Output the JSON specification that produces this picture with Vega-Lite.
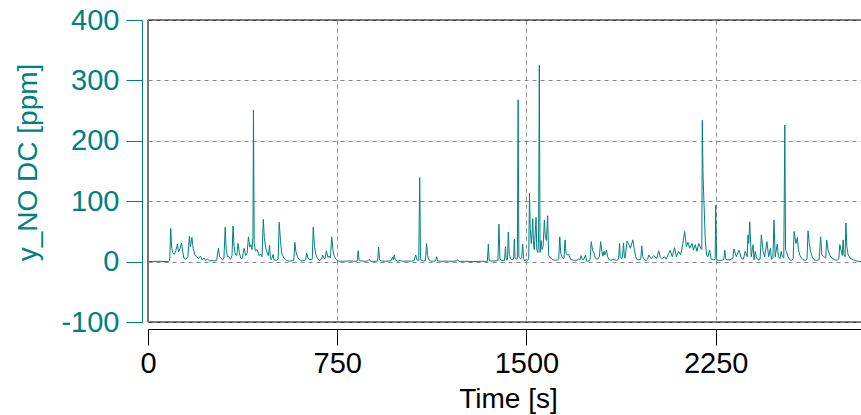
{
  "$schema": "https://vega.github.io/schema/vega-lite/v6.json",
  "width": 713,
  "height": 302,
  "autosize": {"type": "none"},
  "padding": {"left": 148, "top": 20, "right": 0, "bottom": 93},
  "background": "white",
  "config": {"view": {"stroke": null}, "font": "Liberation Sans"},
  "layer": [
    {
      "data": {"values": [
        {"t":0,"v":0},{"t":40,"v":0.5},{"t":80,"v":0},{"t":86,"v":2},{"t":90,"v":55},{"t":94,"v":22},{"t":98,"v":15},{"t":104,"v":12},{"t":110,"v":18},{"t":117,"v":29},{"t":121,"v":16},{"t":127,"v":22},{"t":133,"v":31},{"t":137,"v":18},{"t":142,"v":6},{"t":150,"v":4},{"t":158,"v":8},{"t":164,"v":42},{"t":168,"v":25},{"t":174,"v":40},{"t":179,"v":22},{"t":185,"v":12},{"t":192,"v":8},{"t":200,"v":5},{"t":208,"v":9},{"t":214,"v":3},{"t":222,"v":6},{"t":228,"v":2},{"t":236,"v":4},{"t":245,"v":1},{"t":255,"v":2},{"t":262,"v":1},{"t":272,"v":2},{"t":279,"v":22},{"t":284,"v":8},{"t":290,"v":5},{"t":296,"v":3},{"t":301,"v":6},{"t":306,"v":57},{"t":310,"v":20},{"t":315,"v":8},{"t":321,"v":8},{"t":327,"v":4},{"t":333,"v":10},{"t":337,"v":59},{"t":341,"v":25},{"t":346,"v":12},{"t":352,"v":10},{"t":357,"v":30},{"t":362,"v":15},{"t":367,"v":6},{"t":373,"v":5},{"t":381,"v":22},{"t":387,"v":10},{"t":393,"v":14},{"t":398,"v":41},{"t":403,"v":24},{"t":408,"v":28},{"t":412,"v":20},{"t":416,"v":40},{"t":418,"v":251},{"t":421,"v":30},{"t":426,"v":18},{"t":433,"v":20},{"t":440,"v":10},{"t":447,"v":12},{"t":452,"v":8},{"t":457,"v":70},{"t":461,"v":40},{"t":466,"v":24},{"t":471,"v":16},{"t":477,"v":10},{"t":482,"v":27},{"t":485,"v":5},{"t":489,"v":3},{"t":496,"v":12},{"t":499,"v":3},{"t":508,"v":2},{"t":516,"v":4},{"t":520,"v":65},{"t":525,"v":35},{"t":530,"v":14},{"t":538,"v":6},{"t":546,"v":3},{"t":555,"v":1},{"t":565,"v":1},{"t":578,"v":2},{"t":582,"v":32},{"t":586,"v":17},{"t":592,"v":8},{"t":600,"v":3},{"t":610,"v":1},{"t":625,"v":3},{"t":629,"v":14},{"t":634,"v":6},{"t":642,"v":3},{"t":651,"v":4},{"t":655,"v":57},{"t":660,"v":25},{"t":665,"v":12},{"t":672,"v":5},{"t":680,"v":2},{"t":688,"v":4},{"t":692,"v":11},{"t":697,"v":6},{"t":702,"v":5},{"t":707,"v":18},{"t":713,"v":7},{"t":718,"v":9},{"t":723,"v":6},{"t":728,"v":41},{"t":733,"v":20},{"t":738,"v":9},{"t":745,"v":4},{"t":752,"v":1},{"t":770,"v":0.5},{"t":800,"v":1},{"t":820,"v":0.5},{"t":829,"v":1},{"t":833,"v":18},{"t":837,"v":2},{"t":845,"v":1},{"t":860,"v":0.5},{"t":870,"v":1},{"t":877,"v":4},{"t":882,"v":0.5},{"t":895,"v":0.5},{"t":910,"v":1},{"t":914,"v":24},{"t":918,"v":3},{"t":925,"v":1},{"t":940,"v":0.5},{"t":955,"v":1},{"t":962,"v":1},{"t":969,"v":7},{"t":972,"v":3},{"t":976,"v":11},{"t":980,"v":3},{"t":990,"v":1},{"t":1000,"v":2},{"t":1010,"v":0.5},{"t":1030,"v":1},{"t":1045,"v":0.5},{"t":1055,"v":2},{"t":1061,"v":11},{"t":1066,"v":3},{"t":1073,"v":2},{"t":1077,"v":139},{"t":1080,"v":5},{"t":1084,"v":2},{"t":1092,"v":1},{"t":1100,"v":2},{"t":1104,"v":30},{"t":1108,"v":10},{"t":1113,"v":3},{"t":1120,"v":1},{"t":1130,"v":0.5},{"t":1140,"v":1},{"t":1144,"v":8},{"t":1148,"v":1},{"t":1165,"v":0.5},{"t":1180,"v":1},{"t":1200,"v":0.5},{"t":1222,"v":1},{"t":1227,"v":3},{"t":1232,"v":0.5},{"t":1260,"v":0.5},{"t":1290,"v":0},{"t":1320,"v":0.5},{"t":1340,"v":0.5},{"t":1345,"v":0.5},{"t":1349,"v":29},{"t":1352,"v":2},{"t":1360,"v":1},{"t":1375,"v":1},{"t":1387,"v":2},{"t":1391,"v":62},{"t":1395,"v":5},{"t":1400,"v":2},{"t":1407,"v":2},{"t":1413,"v":2},{"t":1417,"v":25},{"t":1420,"v":3},{"t":1425,"v":3},{"t":1428,"v":49},{"t":1432,"v":12},{"t":1437,"v":5},{"t":1443,"v":3},{"t":1449,"v":4},{"t":1452,"v":37},{"t":1455,"v":6},{"t":1460,"v":4},{"t":1464,"v":5},{"t":1467,"v":268},{"t":1470,"v":8},{"t":1475,"v":5},{"t":1481,"v":6},{"t":1485,"v":29},{"t":1489,"v":5},{"t":1494,"v":1},{"t":1500,"v":4},{"t":1505,"v":2},{"t":1509,"v":5},{"t":1512,"v":113},{"t":1515,"v":55},{"t":1519,"v":30},{"t":1522,"v":45},{"t":1525,"v":71},{"t":1528,"v":28},{"t":1531,"v":20},{"t":1533,"v":35},{"t":1538,"v":73},{"t":1541,"v":20},{"t":1545,"v":15},{"t":1548,"v":30},{"t":1551,"v":325},{"t":1554,"v":15},{"t":1558,"v":35},{"t":1562,"v":20},{"t":1566,"v":25},{"t":1571,"v":69},{"t":1575,"v":40},{"t":1579,"v":35},{"t":1584,"v":76},{"t":1588,"v":10},{"t":1595,"v":6},{"t":1605,"v":3},{"t":1615,"v":2},{"t":1622,"v":3},{"t":1628,"v":4},{"t":1632,"v":41},{"t":1636,"v":14},{"t":1641,"v":8},{"t":1645,"v":5},{"t":1649,"v":6},{"t":1653,"v":36},{"t":1657,"v":14},{"t":1662,"v":11},{"t":1668,"v":12},{"t":1674,"v":4},{"t":1680,"v":3},{"t":1690,"v":2},{"t":1700,"v":2},{"t":1706,"v":4},{"t":1712,"v":3},{"t":1716,"v":10},{"t":1722,"v":3},{"t":1728,"v":4},{"t":1734,"v":11},{"t":1738,"v":1},{"t":1745,"v":1},{"t":1752,"v":3},{"t":1757,"v":33},{"t":1762,"v":19},{"t":1768,"v":14},{"t":1773,"v":6},{"t":1780,"v":4},{"t":1785,"v":5},{"t":1789,"v":8},{"t":1794,"v":33},{"t":1799,"v":17},{"t":1803,"v":9},{"t":1807,"v":17},{"t":1811,"v":11},{"t":1817,"v":19},{"t":1822,"v":8},{"t":1828,"v":3},{"t":1835,"v":2},{"t":1842,"v":4},{"t":1850,"v":3},{"t":1858,"v":2},{"t":1865,"v":4},{"t":1869,"v":30},{"t":1872,"v":8},{"t":1876,"v":5},{"t":1880,"v":7},{"t":1885,"v":31},{"t":1888,"v":6},{"t":1891,"v":6},{"t":1899,"v":34},{"t":1904,"v":30},{"t":1912,"v":22},{"t":1922,"v":36},{"t":1928,"v":19},{"t":1933,"v":8},{"t":1939,"v":3},{"t":1946,"v":3},{"t":1953,"v":4},{"t":1957,"v":26},{"t":1961,"v":8},{"t":1968,"v":3},{"t":1975,"v":2},{"t":1980,"v":4},{"t":1985,"v":11},{"t":1994,"v":5},{"t":2005,"v":10},{"t":2016,"v":5},{"t":2024,"v":18},{"t":2030,"v":8},{"t":2037,"v":5},{"t":2047,"v":8},{"t":2054,"v":4},{"t":2061,"v":11},{"t":2070,"v":19},{"t":2078,"v":8},{"t":2087,"v":23},{"t":2094,"v":8},{"t":2103,"v":17},{"t":2111,"v":11},{"t":2120,"v":30},{"t":2127,"v":50},{"t":2134,"v":25},{"t":2140,"v":32},{"t":2147,"v":22},{"t":2156,"v":30},{"t":2162,"v":19},{"t":2169,"v":28},{"t":2176,"v":17},{"t":2183,"v":30},{"t":2191,"v":22},{"t":2195,"v":20},{"t":2197,"v":234},{"t":2200,"v":140},{"t":2204,"v":94},{"t":2209,"v":33},{"t":2214,"v":11},{"t":2219,"v":8},{"t":2226,"v":19},{"t":2232,"v":4},{"t":2243,"v":3},{"t":2248,"v":4},{"t":2250,"v":93},{"t":2254,"v":3},{"t":2262,"v":2},{"t":2270,"v":2},{"t":2278,"v":3},{"t":2282,"v":3},{"t":2286,"v":19},{"t":2290,"v":4},{"t":2298,"v":3},{"t":2306,"v":3},{"t":2318,"v":5},{"t":2322,"v":21},{"t":2332,"v":8},{"t":2342,"v":19},{"t":2352,"v":5},{"t":2360,"v":4},{"t":2367,"v":17},{"t":2375,"v":8},{"t":2378,"v":44},{"t":2381,"v":30},{"t":2385,"v":66},{"t":2391,"v":8},{"t":2398,"v":28},{"t":2402,"v":3},{"t":2407,"v":17},{"t":2412,"v":6},{"t":2418,"v":3},{"t":2426,"v":4},{"t":2431,"v":44},{"t":2438,"v":17},{"t":2444,"v":8},{"t":2453,"v":33},{"t":2460,"v":8},{"t":2467,"v":22},{"t":2471,"v":4},{"t":2477,"v":6},{"t":2481,"v":69},{"t":2486,"v":8},{"t":2494,"v":29},{"t":2499,"v":8},{"t":2505,"v":5},{"t":2510,"v":17},{"t":2514,"v":8},{"t":2520,"v":6},{"t":2524,"v":226},{"t":2527,"v":20},{"t":2532,"v":14},{"t":2537,"v":8},{"t":2544,"v":3},{"t":2552,"v":2},{"t":2557,"v":5},{"t":2561,"v":50},{"t":2568,"v":30},{"t":2574,"v":40},{"t":2578,"v":20},{"t":2583,"v":11},{"t":2590,"v":6},{"t":2596,"v":3},{"t":2605,"v":2},{"t":2612,"v":4},{"t":2616,"v":51},{"t":2621,"v":30},{"t":2626,"v":17},{"t":2633,"v":8},{"t":2640,"v":3},{"t":2650,"v":2},{"t":2660,"v":3},{"t":2666,"v":41},{"t":2671,"v":11},{"t":2676,"v":9},{"t":2682,"v":7},{"t":2686,"v":6},{"t":2690,"v":36},{"t":2695,"v":20},{"t":2702,"v":11},{"t":2710,"v":6},{"t":2722,"v":3},{"t":2732,"v":2},{"t":2738,"v":5},{"t":2742,"v":28},{"t":2748,"v":17},{"t":2752,"v":10},{"t":2755,"v":36},{"t":2759,"v":11},{"t":2763,"v":8},{"t":2766,"v":64},{"t":2770,"v":25},{"t":2775,"v":11},{"t":2785,"v":5},{"t":2795,"v":3},{"t":2810,"v":1},{"t":2826,"v":0}
      ]},
      "mark": {"type": "line", "color": "#008080", "strokeWidth": 1, "clip": true},
      "encoding": {
        "x": {
          "field": "t", "type": "quantitative",
          "scale": {"domain": [0, 2826], "nice": false, "zero": false},
          "axis": {
            "title": "Time [s]", "values": [0, 750, 1500, 2250], "format": "d",
            "offset": 7, "tickSize": 16, "tickColor": "black", "domainColor": "black",
            "labelFontSize": 29, "labelColor": "black", "labelPadding": 4,
            "labelFlush": false, "labelOverlap": false,
            "titleFontSize": 28, "titleColor": "black", "titleFontWeight": "normal",
            "titleX": 360, "titleY": 78, "titleBaseline": "alphabetic",
            "grid": true, "gridDash": [4, 4], "gridColor": "#888888", "gridWidth": 1
          }
        },
        "y": {
          "field": "v", "type": "quantitative",
          "scale": {"domain": [-100, 400], "nice": false, "zero": false},
          "axis": {
            "title": "y_NO DC [ppm]", "values": [-100, 0, 100, 200, 300, 400],
            "labelExpr": "datum.value < 0 ? '-' + abs(datum.value) : '' + datum.value",
            "offset": 6, "tickSize": 16, "tickColor": "#008080", "domainColor": "#008080",
            "labelFontSize": 29, "labelColor": "#008080", "labelPadding": 7,
            "labelFlush": false, "labelOverlap": false,
            "titleFontSize": 28, "titleColor": "#008080", "titleFontWeight": "normal",
            "titleX": -114, "titleY": 142, "titleBaseline": "middle",
            "grid": true, "gridDash": [4, 4], "gridColor": "#888888", "gridWidth": 1
          }
        }
      }
    },
    {
      "data": {"values": [{}]},
      "mark": {"type": "rule", "color": "black", "strokeWidth": 1},
      "encoding": {"y": {"datum": 400, "type": "quantitative"}}
    },
    {
      "data": {"values": [{}]},
      "mark": {"type": "rule", "color": "black", "strokeWidth": 1},
      "encoding": {"y": {"datum": -100, "type": "quantitative"}}
    },
    {
      "data": {"values": [{}]},
      "mark": {"type": "rule", "color": "#777777", "strokeWidth": 2},
      "encoding": {"x": {"datum": 0, "type": "quantitative"}}
    }
  ]
}
